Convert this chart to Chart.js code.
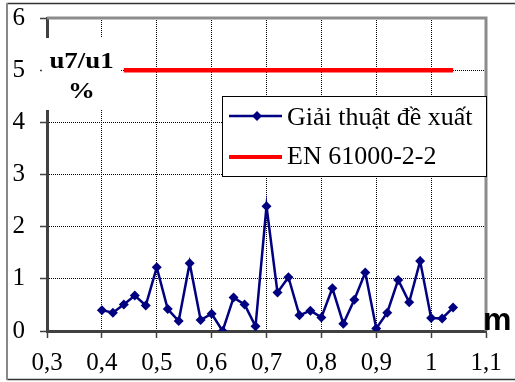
<!DOCTYPE html>
<html>
<head>
<meta charset="utf-8">
<script src="https://cdn.jsdelivr.net/npm/chart.js@4.4.1/dist/chart.umd.min.js"></script>
<style>
  body { margin: 0; background: #fff; }
  #wrap { width: 515px; height: 382px; }
</style>
</head>
<body>
<div id="wrap"><canvas id="harmonicChart" width="515" height="382"></canvas></div>
<script>
// ---------------- data ----------------
const xValues = [
  0.40, 0.42, 0.44, 0.46, 0.48, 0.50, 0.52, 0.54, 0.56, 0.58, 0.60,
  0.62, 0.64, 0.66, 0.68, 0.70, 0.72, 0.74, 0.76, 0.78, 0.80, 0.82,
  0.84, 0.86, 0.88, 0.90, 0.92, 0.94, 0.96, 0.98, 1.00, 1.02, 1.04,
];
const algoValues = [
  0.40, 0.35, 0.51, 0.68, 0.49, 1.22, 0.42, 0.19, 1.30, 0.21, 0.33,
  0.00, 0.64, 0.51, 0.09, 2.39, 0.74, 1.03, 0.30, 0.39, 0.26, 0.82,
  0.14, 0.60, 1.12, 0.05, 0.35, 0.98, 0.55, 1.34, 0.25, 0.24, 0.45,
];
const standardX = [0.44, 1.04];
const standardY = [5, 5];

const xTickValues = [0.3, 0.4, 0.5, 0.6, 0.7, 0.8, 0.9, 1.0, 1.1];
const xTickLabels = ["0,3", "0,4", "0,5", "0,6", "0,7", "0,8", "0,9", "1", "1,1"];
const yTickValues = [0, 1, 2, 3, 4, 5, 6];
const yTickLabels = ["0", "1", "2", "3", "4", "5", "6"];

const seriesNames = ["Giải thuật đề xuất", "EN 61000-2-2"];
const yTitle = ["u7/u1", "%"];
const xTitle = "m";

const NAVY = "#000080";
const RED = "#ff0000";
const SERIF = "'Liberation Serif', 'Times New Roman', serif";

// -------------- frame, title, legend --------------
const decorPlugin = {
  id: "decor",
  beforeDraw(chart) {
    const ctx = chart.ctx;
    ctx.save();
    // outer chart border
    ctx.strokeStyle = "#333";
    ctx.lineWidth = 1.5;
    ctx.beginPath();
    ctx.moveTo(7, 3.5);
    ctx.lineTo(515, 3.5);
    ctx.moveTo(7, 379.5);
    ctx.lineTo(515, 379.5);
    ctx.stroke();
    ctx.strokeStyle = "#888";
    ctx.lineWidth = 2;
    ctx.beginPath();
    ctx.moveTo(7, 3);
    ctx.lineTo(7, 380);
    ctx.stroke();
    ctx.restore();
  },
  afterDatasetsDraw(chart) {
    const ctx = chart.ctx;
    const a = chart.chartArea;
    ctx.save();
    // gray plot border top / right
    ctx.strokeStyle = "#8c8c8c";
    ctx.lineWidth = 3;
    ctx.beginPath();
    ctx.moveTo(a.left, a.top);
    ctx.lineTo(a.right, a.top);
    ctx.lineTo(a.right, a.bottom);
    ctx.stroke();

    // axis title box (text a bit wider, like the original)
    ctx.fillStyle = "#fff";
    ctx.fillRect(42, 38, 79, 72);
    ctx.fillStyle = "#000";
    ctx.font = "bold 24px " + SERIF;
    ctx.textAlign = "center";
    ctx.textBaseline = "alphabetic";
    ctx.save();
    ctx.translate(81.5, 0);
    ctx.scale(1.12, 1);
    ctx.fillText(yTitle[0], 0, 68);
    ctx.fillText(yTitle[1], 0, 98);
    ctx.restore();

    // x title
    ctx.font = "bold 32px 'Liberation Sans', Arial, sans-serif";
    ctx.textAlign = "left";
    ctx.fillText(xTitle, 483, 330);
    ctx.restore();
  },
  afterDraw(chart) {
    const ctx = chart.ctx;
    ctx.save();
    // legend
    ctx.fillStyle = "#fff";
    ctx.fillRect(222, 96, 265, 81);
    ctx.strokeStyle = "#000";
    ctx.lineWidth = 1;
    ctx.strokeRect(222.5, 96.5, 264, 80);

    ctx.strokeStyle = NAVY;
    ctx.lineWidth = 2.5;
    ctx.beginPath();
    ctx.moveTo(229, 116);
    ctx.lineTo(282, 116);
    ctx.stroke();
    ctx.fillStyle = NAVY;
    ctx.beginPath();
    ctx.moveTo(257, 111);
    ctx.lineTo(262, 116);
    ctx.lineTo(257, 121);
    ctx.lineTo(252, 116);
    ctx.closePath();
    ctx.fill();

    ctx.strokeStyle = RED;
    ctx.lineWidth = 4;
    ctx.beginPath();
    ctx.moveTo(229, 157);
    ctx.lineTo(282, 157);
    ctx.stroke();

    ctx.fillStyle = "#000";
    ctx.font = "26px " + SERIF;
    ctx.textAlign = "left";
    ctx.textBaseline = "alphabetic";
    ctx.fillText(seriesNames[0], 287, 125);
    ctx.fillText(seriesNames[1], 287, 164);
    ctx.restore();
  },
};

// -------------- chart --------------
const harmonicCanvas = document.getElementById("harmonicChart");

const harmonicData = {
  datasets: [
    {
      label: seriesNames[0],
      data: xValues.map((x, i) => ({ x: x, y: algoValues[i] })),
      borderColor: NAVY,
      backgroundColor: NAVY,
      borderWidth: 2.5,
      pointStyle: "rectRot",
      pointRadius: 5,
      pointBackgroundColor: NAVY,
      pointBorderColor: NAVY,
      pointBorderWidth: 0,
      tension: 0,
    },
    {
      label: seriesNames[1],
      data: standardX.map((x, i) => ({ x: x, y: standardY[i] })),
      borderColor: RED,
      backgroundColor: RED,
      borderWidth: 4.5,
      pointRadius: 0,
      tension: 0,
    },
  ],
};

const harmonicConfig = {
  type: "line",
  data: harmonicData,
  options: {
    responsive: false,
    animation: false,
    layout: {
      padding: { left: 0, top: 18, right: 29, bottom: 0 },
    },
    plugins: {
      legend: { display: false },
      tooltip: { enabled: false },
    },
    scales: {
      x: {
        type: "linear",
        min: 0.3,
        max: 1.1,
        afterBuildTicks: (scale) => {
          scale.ticks = xTickValues.map((v) => ({ value: v }));
        },
        afterFit: (scale) => {
          scale.height = 51;
          scale.paddingLeft = 0;
          scale.paddingRight = 0;
        },
        ticks: {
          color: "#000",
          font: { family: SERIF, size: 25 },
          padding: 10,
          maxRotation: 0,
          autoSkip: false,
          callback: (value, index) => xTickLabels[index],
        },
        grid: {
          color: (c) => (c.index === 0 || c.index === xTickValues.length - 1 ? "rgba(0,0,0,0)" : "#000"),
          lineWidth: 1,
          tickLength: 7,
          tickColor: "#404040",
          tickWidth: 1.5,
        },
        border: { display: true, color: "#404040", width: 3, dash: [1, 1] },
      },
      y: {
        min: 0,
        max: 6,
        afterBuildTicks: (scale) => {
          scale.ticks = yTickValues.map((v) => ({ value: v }));
        },
        afterFit: (scale) => {
          scale.width = 47;
          scale.paddingTop = 0;
          scale.paddingBottom = 0;
        },
        ticks: {
          color: "#000",
          font: { family: SERIF, size: 25 },
          padding: 15,
          autoSkip: false,
          callback: (value, index) => yTickLabels[index],
        },
        grid: {
          color: (c) => (c.index === 0 || c.index === yTickValues.length - 1 ? "rgba(0,0,0,0)" : "#000"),
          lineWidth: 1,
          tickLength: 7,
          tickColor: "#404040",
          tickWidth: 1.5,
        },
        border: { display: true, color: "#404040", width: 3, dash: [1, 1] },
      },
    },
  },
  plugins: [decorPlugin],
};

const harmonicChart = new Chart(harmonicCanvas, harmonicConfig);
</script>
</body>
</html>
